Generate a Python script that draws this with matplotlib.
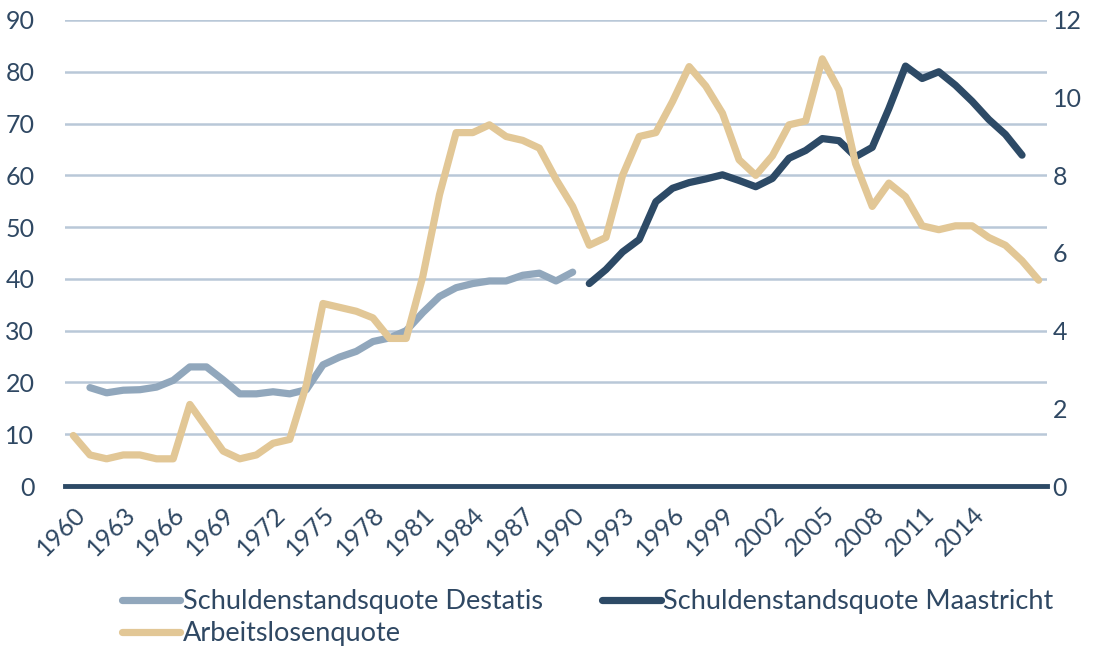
import numpy as np
import matplotlib
matplotlib.use("Agg")
import matplotlib.pyplot as plt

nan = np.nan
years = list(range(1960, 2019))

destatis = [nan,
            19.0, 18.0, 18.5, 18.6, 19.1, 20.4, 23.0, 23.0, 20.5, 17.8,
            17.8, 18.2, 17.8, 18.6, 23.4, 24.9, 26.0, 27.9, 28.6, 30.0,
            33.5, 36.6, 38.3, 39.1, 39.6, 39.6, 40.7, 41.1, 39.6, 41.3,
            nan, nan, nan, nan, nan, nan, nan, nan, nan, nan,
            nan, nan, nan, nan, nan, nan, nan, nan, nan, nan,
            nan, nan, nan, nan, nan, nan, nan, nan]

maastricht = [nan] * 31 + [
    39.1, 41.8, 45.2, 47.6, 54.9, 57.5, 58.6, 59.3, 60.1, 59.0,
    57.8, 59.4, 63.3, 64.8, 67.1, 66.7, 63.6, 65.4, 72.9, 81.1,
    78.7, 80.0, 77.4, 74.3, 70.8, 67.9, 63.9, nan]

unemployment = [1.3, 0.8, 0.7, 0.8, 0.8, 0.7, 0.7, 2.1, 1.5, 0.9,
                0.7, 0.8, 1.1, 1.2, 2.6, 4.7, 4.6, 4.5, 4.33, 3.8,
                3.8, 5.4, 7.5, 9.1, 9.1, 9.3, 9.0, 8.9, 8.7, 7.9,
                7.2, 6.2, 6.4, 8.0, 9.0, 9.1, 9.9, 10.8, 10.3, 9.6,
                8.4, 8.0, 8.5, 9.3, 9.4, 11.0, 10.2, 8.3, 7.2, 7.8,
                7.45, 6.7, 6.6, 6.7, 6.7, 6.4, 6.2, 5.8, 5.3]

xtick_years = list(range(1960, 2015, 3))
left_ticks = list(range(0, 91, 10))
right_ticks = list(range(0, 13, 2))

labels = ["Schuldenstandsquote Destatis", "Schuldenstandsquote Maastricht",
          "Arbeitslosenquote"]

c_gray = "#91A7BC"
c_navy = "#2D4A66"
c_tan = "#E2C796"
c_grid = "#B9C8D8"
c_text = "#2F4863"

plt.rcParams['font.family'] = ['Lato', 'DejaVu Sans']

fig = plt.figure(figsize=(11.09, 6.47), dpi=100)
ax = fig.add_axes([65 / 1109, 1 - 486 / 647, (1047 - 65) / 1109, (486 - 20) / 647])
ax2 = ax.twinx()

lw = 5.2
l1, = ax.plot(years, destatis, color=c_gray, lw=lw, solid_capstyle='round',
              solid_joinstyle='round', label=labels[0], zorder=3)
l2, = ax.plot(years, maastricht, color=c_navy, lw=lw, solid_capstyle='round',
              solid_joinstyle='round', label=labels[1], zorder=3)
l3, = ax2.plot(years, unemployment, color=c_tan, lw=lw, solid_capstyle='round',
               solid_joinstyle='round', label=labels[2], zorder=3)

ax.set_xlim(1959.5, 2018.5)
ax.set_ylim(0, 90)
ax2.set_ylim(0, 12)
ax.set_yticks(left_ticks)
ax2.set_yticks(right_ticks)
ax.set_xticks(xtick_years)
ax.set_xticklabels([str(y) for y in xtick_years], rotation=45, ha='right',
                   va='top', rotation_mode='anchor')

ax.grid(axis='y', color=c_grid, lw=1.8, zorder=0)
ax.set_axisbelow(True)
for a in (ax, ax2):
    for s in a.spines.values():
        s.set_visible(False)
ax.spines['bottom'].set_visible(True)
ax.spines['bottom'].set_color(c_navy)
ax.spines['bottom'].set_linewidth(3.5)
ax.spines['bottom'].set_zorder(5)

ax.tick_params(axis='y', length=0, pad=22, labelsize=18, labelcolor=c_text)
ax.tick_params(axis='x', length=0, pad=12, labelsize=18, labelcolor=c_text)
ax2.tick_params(axis='y', length=0, pad=4, labelsize=18, labelcolor=c_text)

leg = fig.legend([l1, l3, l2], [labels[0], labels[2], labels[1]], ncol=2,
                 loc='center', bbox_to_anchor=(0.53, 0.045), frameon=False,
                 fontsize=19.5, handlelength=2.15, handletextpad=0.1,
                 columnspacing=2.2, labelspacing=0.25, labelcolor=c_text)

fig.savefig("out.png", dpi=100)
